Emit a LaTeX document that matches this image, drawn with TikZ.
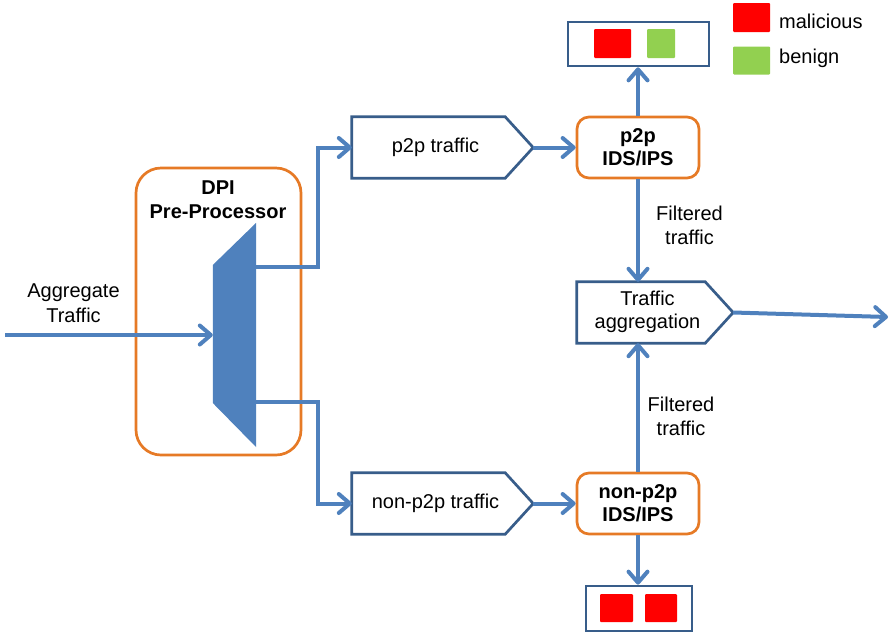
\documentclass[tikz,border=0pt]{standalone}
\usepackage{fontspec}
\setmainfont{Liberation Sans}
\usetikzlibrary{arrows.meta}
\pgfdeclarelayer{background}
\pgfsetlayers{background,main}
\definecolor{lblue}{HTML}{4F81BD}
\definecolor{dblue}{HTML}{385D8A}
\definecolor{orng}{HTML}{E67A26}
\definecolor{myred}{HTML}{FF0000}
\definecolor{mygreen}{HTML}{92D050}
\begin{document}
\begin{tikzpicture}[x=1pt,y=-1pt,
  font=\fontsize{20}{24}\selectfont,
  conn/.style={draw=lblue, line width=4pt, -{Straight Barb[length=11pt,width=19pt,round]}},
  orbox/.style={draw=orng, line width=2.7pt, fill=white, rounded corners=12pt, inner sep=0pt},
  sigbox/.style={inner sep=0pt},
  sigline/.style={draw=dblue, line width=2.7pt, line join=miter, fill=white},
  resbox/.style={draw=dblue, line width=2.7pt, fill=white, inner sep=0pt},
  sq/.style={inner sep=0pt, rounded corners=1pt},
  txt/.style={inner sep=0pt, align=center},
  btxt/.style={inner sep=0pt, align=center, font=\fontsize{20}{23}\selectfont\bfseries}
]
\useasboundingbox (0,0) rectangle (891,633);

% DPI pre-processor
\node[orbox, rounded corners=25pt, minimum width=165pt, minimum height=287pt] (dpi) at (218.5,311.5) {};
\node[btxt, font=\fontsize{20}{24}\selectfont\bfseries] (dpititle) at (218,200) {DPI\\Pre-Processor};
\node[inner sep=0pt, minimum width=43pt, minimum height=224pt] (mux) at (234.5,335) {};
\fill[lblue] (mux.west |- 0,265) -- (mux.north east) -- (mux.south east) -- (mux.west |- 0,403) -- cycle;
\coordinate (muxa) at (256,267);
\coordinate (muxb) at (256,402);

% input
\coordinate (in) at (5,335);
\node[txt, font=\fontsize{20}{25}\selectfont] (agglbl) at (73.5,303) {Aggregate\\Traffic};
\draw[conn] (in) -- (mux.west);

% classified traffic boxes
\node[sigbox, minimum width=181pt, minimum height=61pt] (p2pt) at (442.5,147.5)
  {\begin{tabular}{@{}c@{\hspace{14pt}}}p2p traffic\end{tabular}};
\node[sigbox, minimum width=181pt, minimum height=61pt] (np2pt) at (442.5,503.5)
  {\begin{tabular}{@{}c@{\hspace{14pt}}}non-p2p traffic\end{tabular}};

% IDS/IPS
\node[orbox, btxt, minimum width=122pt, minimum height=61pt] (p2ids) at (638,147.5) {p2p\\IDS/IPS};
\node[orbox, btxt, minimum width=122pt, minimum height=61pt] (np2ids) at (638,503.5) {non-p2p\\IDS/IPS};

% aggregation
\node[sigbox, minimum width=156pt, minimum height=61pt] (agg) at (655,312.5)
  {\begin{tabular}{@{}c@{\hspace{15pt}}}Traffic\\[-1pt]aggregation\end{tabular}};
\coordinate (out) at (888,317);

% pentagon outlines behind the named nodes
\begin{pgfonlayer}{background}
\foreach \n in {p2pt,np2pt,agg}{
  \draw[sigline] (\n.north west) -- ([xshift=-28pt]\n.north east) -- (\n.east)
    -- ([xshift=-28pt]\n.south east) -- (\n.south west) -- cycle;
}
\end{pgfonlayer}

% result boxes
\node[resbox, minimum width=141pt, minimum height=44pt] (res1) at (638.5,44) {};
\node[resbox, minimum width=106pt, minimum height=45pt] (res2) at (639,608.5) {};

% squares
\node[sq, fill=myred, minimum width=37pt, minimum height=29pt] (r1a) at (612.5,43.5) {};
\node[sq, fill=mygreen, minimum width=28pt, minimum height=29pt] (g1a) at (661,43.5) {};
\node[sq, fill=myred, minimum width=33pt, minimum height=28pt] (r2a) at (616.5,608) {};
\node[sq, fill=myred, minimum width=32pt, minimum height=28pt] (r2b) at (661,608) {};

% legend
\node[sq, fill=myred, minimum width=37pt, minimum height=29pt] (legr) at (751.5,17.5) {};
\node[sq, fill=mygreen, minimum width=37pt, minimum height=28pt] (legg) at (751.5,60.5) {};
\node[inner sep=0pt, anchor=base west] (legrt) at (779,28) {malicious};
\node[inner sep=0pt, anchor=base west] (leggt) at (779,63) {benign};

% routing and connectors
\draw[conn] (muxa) -- ++(62,0) |- (p2pt.west);
\draw[conn] (muxb) -- ++(62,0) |- (np2pt.west);
\draw[conn] (p2pt.east) -- (p2ids.west);
\draw[conn] (np2pt.east) -- (np2ids.west);
\draw[conn] (p2ids.north) -- (p2ids.north |- res1.south);
\draw[conn] (np2ids.south) -- (np2ids.south |- res2.north);
\draw[conn] (p2ids.south) -- (p2ids.south |- agg.north);
\draw[conn] (np2ids.north) -- (np2ids.north |- agg.south);
\draw[conn] (agg.east) -- (out);

\node[txt] (f1) at (689.5,225) {Filtered\\traffic};
\node[txt] (f2) at (681,416) {Filtered\\traffic};
\end{tikzpicture}
\end{document}
